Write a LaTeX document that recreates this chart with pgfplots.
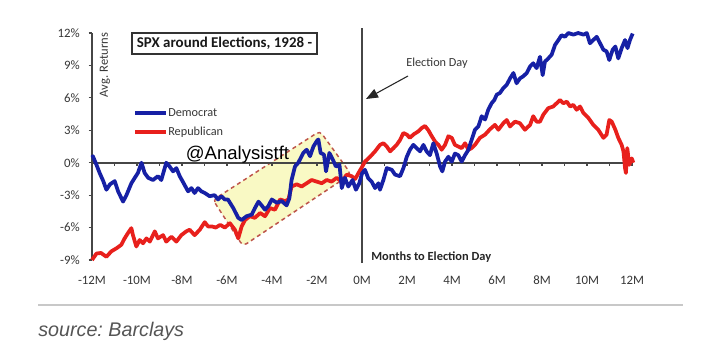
\documentclass[border=0pt]{standalone}
\usepackage{pgfplots}
\pgfplotsset{compat=1.18}
\usepackage{fontspec}
\setmainfont{Carlito}
\newfontfamily\wmfont{Liberation Sans}
\usetikzlibrary{arrows.meta}
\definecolor{demblue}{RGB}{22,32,165}
\definecolor{repred}{RGB}{232,32,28}
\definecolor{ticktext}{RGB}{55,55,55}
\definecolor{axisgray}{RGB}{70,70,70}
\definecolor{yellowfill}{RGB}{249,249,196}
\definecolor{dashred}{RGB}{190,85,75}
\definecolor{sepgray}{RGB}{200,200,200}
\definecolor{srcgray}{RGB}{85,85,85}
\begin{document}
\begin{tikzpicture}
\begin{scope}[x=0.75pt,y=0.75pt]
\path[use as bounding box, fill=white] (0,0) rectangle (720,356);
\end{scope}
\begin{axis}[
  at={(69pt,72pt)}, anchor=south west,
  scale only axis, width=405pt, height=170.25pt,
  xmin=-12, xmax=12, ymin=-9, ymax=12,
  axis line style={draw=none},
  clip=false,
  xtick={-12,-10,...,12},
  xticklabels={-12M,-10M,-8M,-6M,-4M,-2M,0M,2M,4M,6M,8M,10M,12M},
  xtick style={draw=none},
  xtick pos=bottom, ytick pos=left,
  xticklabel style={anchor=center, yshift=-12.75pt, font=\fontsize{9.6}{11}\selectfont, text=ticktext},
  ytick={-9,-6,...,12},
  yticklabels={-9\%,-6\%,-3\%,0\%,3\%,6\%,9\%,12\%},
  ytick style={draw=axisgray, line width=0.8pt},
  tick align=outside, major tick length=2.5pt,
  yticklabel style={anchor=east, inner sep=0pt, xshift=-6.5pt, font=\fontsize{9.6}{11}\selectfont, text=ticktext},
]
\filldraw[fill=yellowfill, draw=dashred, dash pattern=on 3pt off 2.5pt, line width=1.1pt, rounded corners=3pt]
  (axis cs:-6.62,-3.45) -- (axis cs:-5.29,-7.71) -- (axis cs:-0.49,-1.05) -- (axis cs:-1.87,2.93) -- cycle;
\draw[axisgray, line width=1pt] (axis cs:-12,-9) -- (axis cs:-12,12);
\draw[axisgray, line width=0.9pt] (axis cs:0,-9.28) -- (axis cs:0,12.46);
\draw[axisgray, line width=1.3pt] (axis cs:-12,0) -- (axis cs:12,0);
\pgfplotsinvokeforeach{-11,...,12}{\draw[axisgray, line width=0.8pt] (axis cs:#1,0) -- ++(0pt,-2.5pt);}

\addplot[repred, line width=2.8pt, line join=round] coordinates {
(-12,-9.0) (-11.8,-8.4) (-11.6,-8.35) (-11.36,-8.7) (-11.14,-8.2) (-10.9,-7.9) (-10.7,-7.6)
(-10.55,-7.0) (-10.4,-6.5) (-10.25,-6.05) (-10.18,-6.7) (-10.03,-7.75) (-9.88,-7.15) (-9.73,-7.45)
(-9.58,-7.0) (-9.43,-7.3) (-9.21,-6.35) (-9.07,-7.0) (-8.84,-6.7) (-8.7,-7.3) (-8.47,-6.85)
(-8.25,-7.3) (-8.03,-6.7) (-7.81,-6.35) (-7.66,-6.2) (-7.44,-6.7) (-7.21,-6.2) (-6.99,-5.5)
(-6.84,-5.9) (-6.66,-5.9) (-6.5,-6.0) (-6.3,-5.75) (-6.1,-6.0) (-5.87,-5.6) (-5.65,-6.2)
(-5.5,-7.0) (-5.35,-5.9) (-5.2,-5.3) (-4.98,-4.95) (-4.76,-5.1) (-4.53,-4.65) (-4.31,-4.95)
(-4.09,-4.2) (-3.87,-4.35) (-3.64,-3.4) (-3.42,-3.55) (-3.27,-3.4) (-3.13,-2.2) (-2.9,-2.0)
(-2.68,-2.2) (-2.46,-1.9) (-2.24,-1.6) (-2.01,-1.75) (-1.79,-1.9) (-1.57,-1.6) (-1.35,-1.75)
(-1.13,-1.4) (-0.9,-1.75) (-0.68,-1.1) (-0.46,-1.25) (-0.3,-1.5) (-0.17,-1.0) (0,-0.4)
(0.13,0.1) (0.36,0.55) (0.58,1.05) (0.8,1.65) (0.95,1.8) (1.1,1.5) (1.25,1.05) (1.4,1.35)
(1.54,1.65) (1.69,2.1) (1.84,2.75) (1.99,2.6) (2.13,2.3) (2.28,2.6) (2.5,2.9) (2.65,3.2)
(2.8,3.4) (2.95,3.0) (3.1,2.45) (3.25,1.95) (3.4,1.65) (3.54,1.2) (3.69,1.65) (3.84,2.45)
(3.99,2.3) (4.13,1.65) (4.28,1.5) (4.43,1.35) (4.58,1.8) (4.73,1.2) (4.87,1.35) (5.02,1.65)
(5.24,2.3) (5.47,2.6) (5.69,3.1) (5.91,3.5) (6.06,3.05) (6.28,3.65) (6.43,3.95) (6.58,3.35)
(6.8,3.8) (7.02,3.65) (7.24,3.05) (7.47,3.5) (7.61,4.3) (7.76,3.8) (7.91,3.8) (8.06,4.45)
(8.28,5.05) (8.5,5.2) (8.65,5.5) (8.8,5.8) (8.95,5.5) (9.1,5.65) (9.25,5.2) (9.39,5.35)
(9.54,4.9) (9.69,5.2) (9.84,4.6) (10.06,4.15) (10.28,3.5) (10.5,3.05) (10.73,2.3) (10.87,2.6)
(10.99,3.95) (11.1,3.8) (11.26,3.05) (11.39,2.3) (11.54,1.65) (11.62,1.05) (11.69,-0.5)
(11.73,-0.95) (11.79,1.35) (11.88,-0.2) (11.99,0.4) (12.06,0.0)
};
\addplot[demblue, line width=2.8pt, line join=round] coordinates {
(-12,0.5) (-11.96,0.6) (-11.8,-0.2) (-11.66,-0.95) (-11.5,-1.7) (-11.36,-2.5) (-11.2,-2.0)
(-10.99,-1.7) (-10.84,-2.65) (-10.62,-3.6) (-10.47,-3.0) (-10.25,-1.9) (-10.1,-1.4) (-9.96,-0.95)
(-9.8,0.0) (-9.66,-0.95) (-9.5,-1.4) (-9.29,-1.6) (-9.07,-1.25) (-8.92,-1.6) (-8.7,0.0)
(-8.55,-0.35) (-8.4,-0.8) (-8.25,-0.5) (-8.1,-1.25) (-7.9,-2.0) (-7.73,-2.65) (-7.58,-2.35)
(-7.44,-2.8) (-7.29,-2.35) (-7.14,-2.65) (-6.99,-2.8) (-6.77,-3.1) (-6.55,-3.0) (-6.4,-3.4)
(-6.25,-3.1) (-6.1,-3.4) (-5.96,-3.4) (-5.72,-4.2) (-5.5,-5.1) (-5.35,-5.3) (-5.13,-4.95)
(-4.9,-4.8) (-4.76,-4.2) (-4.6,-3.6) (-4.46,-3.95) (-4.31,-4.35) (-4.16,-4.0) (-4.01,-3.4)
(-3.79,-3.7) (-3.57,-3.55) (-3.35,-3.95) (-3.23,-3.3) (-3.13,-1.6) (-2.98,-0.35) (-2.83,0.0)
(-2.61,0.9) (-2.46,1.2) (-2.31,0.6) (-2.16,1.5) (-2.01,2.0) (-1.94,2.15) (-1.84,0.9)
(-1.69,0.75) (-1.6,-0.8) (-1.45,0.9) (-1.3,0.3) (-1.16,-0.35) (-1.0,-0.2) (-0.9,-2.35)
(-0.76,-1.4) (-0.61,-2.2) (-0.42,-1.6) (-0.27,-2.5) (-0.12,-1.9) (0,-1.0) (0.13,-0.65)
(0.28,-1.45) (0.43,-1.75) (0.58,-2.35) (0.73,-1.9) (0.8,-2.5) (0.95,-1.6) (1.1,-0.5)
(1.32,-0.65) (1.47,-1.1) (1.69,-1.25) (1.84,-0.5) (1.99,0.55) (2.13,1.2) (2.28,1.65)
(2.43,1.35) (2.58,1.05) (2.73,1.65) (2.87,1.05) (3.02,0.7) (3.17,1.8) (3.32,0.85)
(3.47,-0.35) (3.57,-0.8) (3.69,0.1) (3.84,0.55) (3.99,0.1) (4.13,0.85) (4.28,0.7) (4.43,0.1)
(4.58,0.7) (4.73,1.2) (4.87,2.1) (5.02,3.05) (5.17,3.35) (5.32,4.3) (5.47,4.0) (5.61,4.9)
(5.76,5.5) (5.88,5.8) (5.99,6.3) (6.13,6.45) (6.28,6.9) (6.43,7.2) (6.58,7.8) (6.73,8.3)
(6.87,7.35) (7.02,7.8) (7.17,8.0) (7.32,8.3) (7.47,8.9) (7.61,9.2) (7.76,8.75) (7.91,9.8)
(8.03,8.1) (8.13,9.35) (8.28,9.65) (8.43,10.0) (8.58,10.9) (8.73,11.35) (8.87,11.8)
(9.02,11.65) (9.17,12.0) (9.39,11.85) (9.61,12.0) (9.84,11.85) (9.99,12.0) (10.13,11.05)
(10.28,11.35) (10.43,11.65) (10.58,11.05) (10.73,10.45) (10.87,10.3) (10.99,9.5) (11.14,10.45)
(11.26,10.75) (11.39,9.65) (11.54,10.6) (11.69,11.35) (11.8,10.6) (11.91,11.35) (12.03,11.95)
};
\end{axis}
\begin{scope}[x=0.75pt,y=0.75pt]
\node[rotate=90, text=ticktext, font=\fontsize{9.4}{11}\selectfont, inner sep=0pt] at (105,291) {Avg. Returns};
\draw[line width=1pt, black!80] (132,323) rectangle (317,302);
\node[font=\fontsize{11.2}{13}\selectfont\bfseries, text=black!90, inner sep=0pt] at (224.5,312.5) {SPX around Elections, 1928 -};
\draw[demblue, line width=2.8pt] (135,243) -- (166,243);
\node[anchor=west, inner sep=0pt, text=ticktext, font=\fontsize{9.2}{11}\selectfont] at (168,243) {Democrat};
\draw[repred, line width=2.8pt] (135,224) -- (166,224);
\node[anchor=west, inner sep=0pt, text=ticktext, font=\fontsize{9.2}{11}\selectfont] at (168,224) {Republican};
\node[inner sep=0pt, text=ticktext, font=\fontsize{9.2}{11}\selectfont] at (437,293) {Election Day};
\draw[line width=0.8pt, black!85, -{Triangle[length=9pt,width=7pt]}] (408,280) -- (366,257);
\node[anchor=west, inner sep=0pt, text=black!85, font=\fontsize{9.3}{11}\selectfont\bfseries] at (371,99) {Months to Election Day};
\node[inner sep=0pt, text=black, font=\wmfont\fontsize{13.9}{16}\selectfont] at (237.5,201) {@Analysistft};
\draw[sepgray, line width=1.5pt] (38,51) -- (683,51);
\node[anchor=base west, inner sep=0pt, text=srcgray, font=\wmfont\itshape\fontsize{14.8}{17}\selectfont] at (38,19) {source:~Barclays};
\end{scope}
\end{tikzpicture}
\end{document}
